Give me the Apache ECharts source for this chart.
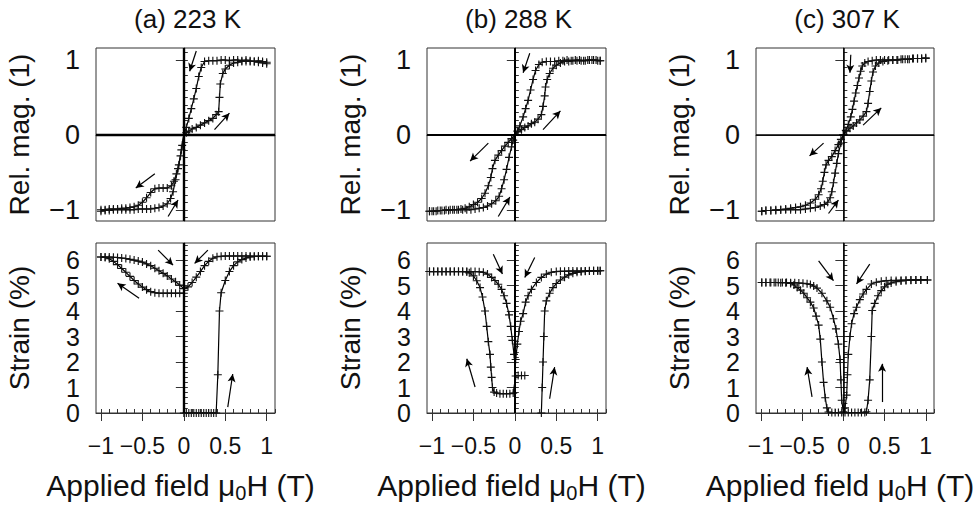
<!DOCTYPE html>
<html><head><meta charset="utf-8">
<script src="https://cdn.jsdelivr.net/npm/echarts@6/dist/echarts.min.js"></script>
<style>html,body{margin:0;padding:0;background:#fff}#c{width:980px;height:505px}</style>
</head><body><div id="c"></div><script>
// ---- tick labels / titles ----
const fieldTicks = [-1, -0.5, 0, 0.5, 1];
const magTicks = [-1, 0, 1];
const strainTicks = [0, 1, 2, 3, 4, 5, 6];
const titles = ['(a) 223 K', '(b) 288 K', '(c) 307 K'];
const magName = 'Rel. mag. (1)';
const strainName = 'Strain (%)';

// ---- (a) 223 K ----
const aMagDown = [[1.0,0.97],[0.95,0.98],[0.9,0.99],[0.85,0.98],[0.8,0.99],[0.75,1.0],[0.7,0.99],[0.65,1.0],[0.6,1.0],[0.55,0.99],[0.5,1.0],[0.45,1.0],[0.4,0.99],[0.35,0.99],[0.3,0.99],[0.25,0.98],[0.21,0.9],[0.18,0.78],[0.15,0.62],[0.12,0.48],[0.09,0.35],[0.06,0.22],[0.03,0.1],[0,0],[-0.03,-0.2],[-0.06,-0.4],[-0.09,-0.52],[-0.12,-0.62],[-0.15,-0.68],[-0.2,-0.71],[-0.25,-0.71],[-0.3,-0.71],[-0.35,-0.72],[-0.4,-0.77],[-0.45,-0.84],[-0.5,-0.9],[-0.55,-0.94],[-0.6,-0.96],[-0.65,-0.97],[-0.7,-0.98],[-0.75,-0.98],[-0.8,-0.99],[-0.85,-0.99],[-0.9,-0.99],[-0.95,-1.0],[-1.0,-1.0]];
const aMagUp = [[-1.0,-1.02],[-0.95,-1.01],[-0.9,-1.01],[-0.85,-1.0],[-0.8,-1.0],[-0.75,-1.0],[-0.7,-1.0],[-0.65,-1.0],[-0.6,-1.0],[-0.55,-0.99],[-0.5,-0.99],[-0.45,-0.99],[-0.4,-0.99],[-0.35,-0.98],[-0.3,-0.97],[-0.25,-0.95],[-0.2,-0.92],[-0.16,-0.85],[-0.13,-0.76],[-0.1,-0.6],[-0.07,-0.45],[-0.04,-0.28],[-0.02,-0.14],[0,0],[0.03,0.03],[0.06,0.05],[0.1,0.08],[0.15,0.1],[0.2,0.13],[0.25,0.16],[0.3,0.19],[0.35,0.22],[0.39,0.27],[0.42,0.31],[0.43,0.5],[0.44,0.68],[0.47,0.82],[0.5,0.88],[0.55,0.93],[0.6,0.96],[0.65,0.97],[0.7,0.98],[0.75,0.98],[0.8,0.98],[0.85,0.98],[0.9,0.97],[0.95,0.96],[1.0,0.95]];
const aMagArrows = [[0.15,1.12,0.07,0.85],[0.37,0.07,0.55,0.29],[-0.35,-0.52,-0.58,-0.71],[-0.19,-1.09,-0.07,-0.87]];
const aStrainV = [[-1.0,6.12],[-0.95,6.12],[-0.9,6.12],[-0.85,6.11],[-0.8,6.1],[-0.75,6.08],[-0.7,6.06],[-0.65,6.03],[-0.6,6.0],[-0.55,5.96],[-0.5,5.92],[-0.45,5.85],[-0.4,5.78],[-0.35,5.68],[-0.3,5.58],[-0.25,5.48],[-0.2,5.38],[-0.15,5.26],[-0.1,5.15],[-0.05,5.02],[0,4.88],[0.05,4.95],[0.1,5.12],[0.15,5.33],[0.2,5.55],[0.25,5.78],[0.3,5.95],[0.35,6.07],[0.4,6.13],[0.45,6.15],[0.5,6.16],[0.55,6.16],[0.6,6.16],[0.65,6.16],[0.7,6.16],[0.75,6.16],[0.8,6.16],[0.85,6.15],[0.9,6.15],[0.95,6.15],[1.0,6.15]];
const aStrainLow = [[-1.0,6.12],[-0.95,6.1],[-0.9,6.05],[-0.85,5.95],[-0.8,5.82],[-0.75,5.67],[-0.7,5.52],[-0.65,5.36],[-0.6,5.2],[-0.55,5.06],[-0.5,4.94],[-0.45,4.84],[-0.4,4.76],[-0.35,4.72],[-0.3,4.7],[-0.25,4.7],[-0.2,4.7],[-0.15,4.7],[-0.1,4.7],[-0.05,4.7],[0,4.7],[0,0],[0.03,0],[0.06,0],[0.09,0],[0.12,0],[0.15,0],[0.18,0],[0.21,0],[0.24,0],[0.27,0],[0.3,0],[0.33,0],[0.36,0],[0.39,0],[0.41,1.5],[0.43,4.0],[0.45,4.72],[0.5,5.2],[0.55,5.55],[0.6,5.78],[0.65,5.93],[0.7,6.02],[0.75,6.08],[0.8,6.12],[0.85,6.14],[0.9,6.15],[0.95,6.15],[1.0,6.15]];
const aStrainArrows = [[-0.31,6.39,-0.13,5.8],[0.29,6.39,0.13,5.87],[-0.54,4.5,-0.8,5.09],[0.53,0.23,0.59,1.53]];

// ---- (b) 288 K ----
const bMagDown = [[1.03,0.99],[0.98,1.0],[0.93,1.0],[0.88,1.0],[0.83,0.99],[0.78,1.0],[0.73,1.0],[0.68,0.99],[0.63,1.0],[0.58,0.99],[0.53,0.99],[0.48,0.98],[0.43,0.98],[0.38,0.98],[0.33,0.97],[0.29,0.94],[0.25,0.86],[0.22,0.74],[0.19,0.6],[0.16,0.46],[0.13,0.35],[0.1,0.24],[0.06,0.12],[0.03,0.05],[0,0],[-0.04,-0.05],[-0.08,-0.1],[-0.12,-0.15],[-0.16,-0.21],[-0.2,-0.27],[-0.24,-0.34],[-0.27,-0.45],[-0.29,-0.57],[-0.32,-0.68],[-0.36,-0.78],[-0.4,-0.85],[-0.45,-0.9],[-0.5,-0.93],[-0.55,-0.96],[-0.6,-0.98],[-0.65,-0.99],[-0.7,-1.0],[-0.75,-1.0],[-0.8,-1.01],[-0.85,-1.01],[-0.9,-1.01],[-0.95,-1.02],[-1.0,-1.02],[-1.03,-1.02]];
const bMagUp = [[-1.03,-1.02],[-0.98,-1.02],[-0.93,-1.01],[-0.88,-1.01],[-0.83,-1.0],[-0.78,-1.0],[-0.73,-1.0],[-0.68,-1.0],[-0.63,-1.0],[-0.58,-1.0],[-0.53,-1.0],[-0.48,-0.99],[-0.43,-0.98],[-0.38,-0.97],[-0.33,-0.95],[-0.28,-0.92],[-0.23,-0.88],[-0.19,-0.82],[-0.16,-0.72],[-0.13,-0.6],[-0.1,-0.46],[-0.07,-0.3],[-0.04,-0.16],[-0.02,-0.07],[0,0],[0.04,0.04],[0.08,0.07],[0.12,0.1],[0.16,0.12],[0.2,0.15],[0.24,0.17],[0.28,0.21],[0.32,0.27],[0.34,0.38],[0.36,0.52],[0.37,0.64],[0.39,0.74],[0.42,0.82],[0.46,0.89],[0.5,0.93],[0.55,0.96],[0.6,0.98],[0.65,0.98],[0.7,0.99],[0.75,0.99],[0.8,0.99],[0.85,0.99],[0.9,1.0],[0.95,1.0],[1.0,0.99],[1.03,0.99]];
const bMagArrows = [[0.18,1.09,0.1,0.83],[0.34,0.07,0.55,0.32],[-0.32,-0.11,-0.54,-0.35],[-0.2,-1.09,-0.06,-0.83]];
const bStrainV = [[-1.03,5.55],[-0.98,5.55],[-0.93,5.55],[-0.88,5.55],[-0.83,5.55],[-0.78,5.55],[-0.73,5.55],[-0.68,5.55],[-0.63,5.55],[-0.58,5.55],[-0.53,5.55],[-0.48,5.55],[-0.43,5.54],[-0.38,5.52],[-0.33,5.45],[-0.28,5.32],[-0.24,5.2],[-0.2,5.05],[-0.16,4.85],[-0.13,4.6],[-0.1,4.3],[-0.07,3.85],[-0.05,3.4],[-0.03,2.85],[-0.01,2.3],[0.01,2.1],[0.03,2.7],[0.05,3.2],[0.07,3.6],[0.1,3.9],[0.13,4.35],[0.16,4.6],[0.2,4.85],[0.26,5.12],[0.32,5.32],[0.38,5.45],[0.44,5.52],[0.5,5.55],[0.55,5.56],[0.6,5.56],[0.65,5.57],[0.7,5.57],[0.75,5.57],[0.8,5.57],[0.85,5.57],[0.9,5.58],[0.95,5.58],[1.0,5.58],[1.03,5.58]];
const bStrainLow = [[-1.03,5.55],[-0.98,5.55],[-0.93,5.55],[-0.88,5.55],[-0.83,5.55],[-0.78,5.55],[-0.73,5.55],[-0.68,5.55],[-0.63,5.55],[-0.58,5.54],[-0.55,5.5],[-0.5,5.38],[-0.46,5.19],[-0.42,4.92],[-0.39,4.55],[-0.36,4.0],[-0.34,3.4],[-0.32,2.8],[-0.3,2.3],[-0.29,1.8],[-0.28,1.4],[-0.27,1.0],[-0.25,0.82],[-0.22,0.78],[-0.18,0.76],[-0.14,0.76],[-0.1,0.76],[-0.06,0.76],[-0.02,0.78],[0.01,1.45],[0.04,1.47],[0.08,1.47],[0.12,1.47],[0.2,null],[0.32,0],[0.33,1.0],[0.34,2.0],[0.35,3.0],[0.36,4.0],[0.38,4.4],[0.42,4.7],[0.46,4.92],[0.5,5.08],[0.55,5.22],[0.6,5.33],[0.65,5.42],[0.7,5.48],[0.75,5.52],[0.8,5.54],[0.85,5.56],[0.9,5.57],[0.95,5.58],[1.0,5.58],[1.03,5.58]];
const bStrainArrows = [[-0.26,6.23,-0.15,5.45],[0.24,6.1,0.12,5.32],[-0.48,1.02,-0.58,2.13],[0.42,0.56,0.48,1.8]];

// ---- (c) 307 K ----
const cMagDown = [[1.0,1.02],[0.95,1.02],[0.9,1.02],[0.85,1.02],[0.8,1.01],[0.75,1.01],[0.7,1.01],[0.65,1.0],[0.6,1.0],[0.55,1.0],[0.5,1.0],[0.45,1.0],[0.4,1.0],[0.35,0.99],[0.3,0.98],[0.26,0.96],[0.23,0.92],[0.21,0.85],[0.19,0.76],[0.17,0.66],[0.15,0.56],[0.13,0.45],[0.11,0.34],[0.09,0.24],[0.06,0.14],[0.03,0.06],[0,0],[-0.03,-0.06],[-0.06,-0.13],[-0.1,-0.21],[-0.14,-0.29],[-0.18,-0.34],[-0.21,-0.4],[-0.23,-0.5],[-0.25,-0.62],[-0.27,-0.72],[-0.3,-0.8],[-0.34,-0.86],[-0.4,-0.91],[-0.46,-0.94],[-0.52,-0.96],[-0.58,-0.97],[-0.64,-0.98],[-0.7,-0.99],[-0.76,-1.0],[-0.82,-1.0],[-0.88,-1.01],[-0.94,-1.01],[-0.99,-1.02]];
const cMagUp = [[-0.99,-1.02],[-0.94,-1.01],[-0.88,-1.01],[-0.82,-1.01],[-0.76,-1.0],[-0.7,-1.0],[-0.64,-1.0],[-0.58,-1.0],[-0.52,-1.0],[-0.46,-0.99],[-0.4,-0.98],[-0.34,-0.97],[-0.28,-0.95],[-0.23,-0.93],[-0.19,-0.9],[-0.16,-0.84],[-0.14,-0.76],[-0.12,-0.64],[-0.1,-0.51],[-0.08,-0.38],[-0.06,-0.25],[-0.03,-0.11],[0,0],[0.04,0.05],[0.08,0.09],[0.12,0.12],[0.16,0.16],[0.2,0.2],[0.24,0.25],[0.28,0.31],[0.3,0.42],[0.32,0.58],[0.34,0.72],[0.36,0.84],[0.39,0.92],[0.43,0.96],[0.48,0.98],[0.54,0.99],[0.6,1.0],[0.66,1.0],[0.72,1.01],[0.78,1.01],[0.84,1.02],[0.9,1.02],[0.95,1.02],[1.0,1.03]];
const cMagArrows = [[0.09,1.07,0.08,0.83],[0.24,0.13,0.46,0.36],[-0.24,-0.11,-0.41,-0.28],[-0.18,-1.05,-0.06,-0.87]];
const cStrainV = [[-0.99,5.12],[-0.94,5.12],[-0.89,5.12],[-0.84,5.12],[-0.79,5.12],[-0.74,5.12],[-0.69,5.12],[-0.64,5.11],[-0.59,5.11],[-0.54,5.1],[-0.49,5.09],[-0.44,5.07],[-0.4,5.04],[-0.36,4.98],[-0.32,4.9],[-0.26,4.7],[-0.2,4.4],[-0.16,4.15],[-0.12,3.7],[-0.09,3.3],[-0.06,2.7],[-0.04,2.1],[-0.03,1.3],[-0.02,0.5],[0,0.05],[0.02,0.2],[0.04,0.7],[0.05,1.5],[0.06,2.3],[0.08,3.0],[0.1,3.5],[0.13,3.9],[0.16,4.15],[0.2,4.45],[0.24,4.67],[0.28,4.85],[0.34,5.06],[0.4,5.13],[0.46,5.17],[0.52,5.19],[0.58,5.2],[0.64,5.2],[0.7,5.21],[0.76,5.21],[0.82,5.22],[0.88,5.22],[0.94,5.22],[1.02,5.22]];
const cStrainLow = [[-0.99,5.12],[-0.94,5.12],[-0.88,5.12],[-0.82,5.12],[-0.76,5.11],[-0.7,5.11],[-0.64,5.08],[-0.6,5.02],[-0.56,4.92],[-0.52,4.82],[-0.48,4.7],[-0.44,4.52],[-0.4,4.35],[-0.36,4.12],[-0.33,3.8],[-0.3,3.45],[-0.28,2.9],[-0.26,2.0],[-0.24,1.2],[-0.22,0.6],[-0.2,0.2],[-0.18,0.04],[-0.14,0.02],[-0.1,0.02],[-0.06,0.02],[-0.02,0.02],[0.02,0.02],[0.06,0.02],[0.1,0.02],[0.14,0.02],[0.18,0.02],[0.22,0.02],[0.26,0.02],[0.28,0.05],[0.3,0.5],[0.32,1.3],[0.34,3.0],[0.35,4.02],[0.38,4.3],[0.42,4.6],[0.46,4.8],[0.5,4.95],[0.54,5.05],[0.58,5.1],[0.64,5.15],[0.7,5.18],[0.76,5.2],[0.82,5.21],[0.88,5.22],[0.94,5.22],[1.02,5.22]];
const cStrainArrows = [[-0.3,5.97,-0.12,5.19],[0.32,5.84,0.16,5.06],[-0.38,0.63,-0.44,1.8],[0.47,0.43,0.47,1.93]];

// ---- layout ----
const FONT = '"Liberation Sans", Arial, Helvetica, sans-serif';
const gridLeft = [96, 427, 756], gridW = [179, 179, 178];
const rowTop = [48, 243], rowH = [173, 170];
const X_MIN = -1.06, X_MAX = 1.1;
const Y_RANGE = [[-1.15, 1.16], [0, 6.67]];
const zeroW = [2.4, 2.0, 1.5];
const plus = 'path://M0,4.3H10V5.7H0Z M4.3,0H5.7V10H4.3Z';
function steps(a, b, s) { const r = []; for (let k = 0; a + k * s <= b + 1e-9; k++) r.push(Math.round((a + k * s) * 100) / 100); return r; }
const fmt = v => String(v).replace('-', '\u2212');

const panels = [
  { col: 0, row: 0, lines: [aMagDown, aMagUp], arrows: aMagArrows },
  { col: 1, row: 0, lines: [bMagDown, bMagUp], arrows: bMagArrows },
  { col: 2, row: 0, lines: [cMagDown, cMagUp], arrows: cMagArrows },
  { col: 0, row: 1, lines: [aStrainV, aStrainLow], arrows: aStrainArrows },
  { col: 1, row: 1, lines: [bStrainV, bStrainLow], arrows: bStrainArrows },
  { col: 2, row: 1, lines: [cStrainV, cStrainLow], arrows: cStrainArrows }
];

const grid = [], xAxis = [], yAxis = [], series = [], title = [];
titles.forEach((t, c) => title.push({
  text: t, left: gridLeft[c] + gridW[c] / 2 - 3, top: 1, textAlign: 'center',
  textStyle: { fontSize: 26, fontWeight: 'normal', fontFamily: FONT, color: '#111' }
}));

panels.forEach((p, i) => {
  const bottom = p.row === 1;
  grid.push({ left: gridLeft[p.col], top: rowTop[p.row], width: gridW[p.col], height: rowH[p.row],
    show: true, borderColor: '#333', borderWidth: 1, backgroundColor: 'transparent' });
  const tickStyle = { color: '#333', width: 1 };
  xAxis.push({
    type: 'value', gridIndex: i, min: X_MIN, max: X_MAX,
    axisLine: { show: true, lineStyle: { color: '#333', width: 1 } },
    splitLine: { show: false },
    axisTick: { show: bottom, inside: true, length: 4, customValues: steps(-1, 1.1, 0.1), lineStyle: tickStyle },
    axisLabel: { show: bottom, customValues: fieldTicks, formatter: fmt, fontSize: 23, color: '#111', fontFamily: FONT, margin: 21, showMinLabel: true, showMaxLabel: true },
    name: bottom ? '{a|Applied field \u03bc}{s|0}{a|H (T)}' : '',
    nameLocation: 'middle', nameGap: 54,
    nameTextStyle: { padding: [0, 10, 0, 0], rich: {
      a: { fontSize: 30, fontFamily: FONT, color: '#111', lineHeight: 36 },
      s: { fontSize: 20, fontFamily: FONT, color: '#111', verticalAlign: 'bottom', lineHeight: 36 }
    } }
  });
  xAxis.push({
    type: 'value', gridIndex: i, min: X_MIN, max: X_MAX,
    axisLine: { show: false }, splitLine: { show: false }, axisLabel: { show: false },
    axisTick: { show: bottom, inside: true, length: 8, customValues: fieldTicks, lineStyle: tickStyle }
  });
  const yr = Y_RANGE[p.row];
  const ylab = bottom ? strainTicks : magTicks;
  yAxis.push({
    type: 'value', gridIndex: i, min: yr[0], max: yr[1],
    axisLine: { show: true, lineStyle: { color: '#333', width: 1 } },
    splitLine: { show: false },
    axisTick: { show: true, inside: true, length: 4, customValues: bottom ? steps(0, 6.6, 0.2) : steps(-1.1, 1.1, 0.1), lineStyle: tickStyle },
    axisLabel: { show: true, customValues: ylab, formatter: fmt, fontSize: bottom ? 25 : 27, lineHeight: bottom ? 22 : 30,
      color: '#111', fontFamily: FONT, margin: 16, showMinLabel: true, showMaxLabel: true, hideOverlap: false },
    name: bottom ? strainName : magName, nameLocation: 'middle', nameRotate: 90, nameGap: 63,
    nameTextStyle: { fontSize: 28, fontFamily: FONT, color: '#111' }
  });
  yAxis.push({
    type: 'value', gridIndex: i, min: yr[0], max: yr[1],
    axisLine: { show: false }, splitLine: { show: false }, axisLabel: { show: false },
    axisTick: { show: true, inside: true, length: 8, customValues: ylab, lineStyle: tickStyle }
  });
  p.lines.forEach((d, k) => {
    const s = {
      type: 'line', xAxisIndex: 2 * i, yAxisIndex: 2 * i, data: d,
      symbol: plus, symbolSize: 8, showSymbol: true, connectNulls: false,
      lineStyle: { color: '#000', width: 1.2 }, itemStyle: { color: '#111' },
      emphasis: { disabled: true }, silent: true, animation: false, z: 3
    };
    if (k === 0) {
      s.markLine = {
        silent: true, symbol: ['none', 'none'], label: { show: false }, animation: false,
        lineStyle: { color: '#000', width: zeroW[p.col], type: 'solid' },
        emphasis: { disabled: true },
        data: bottom ? [{ xAxis: 0 }] : [{ xAxis: 0 }, { yAxis: 0 }]
      };
    } else {
      s.markLine = {
        silent: true, symbol: ['none', 'arrow'], symbolSize: [6, 8], label: { show: false }, animation: false,
        lineStyle: { color: '#000', width: 1.2, type: 'solid' },
        emphasis: { disabled: true },
        data: p.arrows.map(a => [{ coord: [a[0], a[1]] }, { coord: [a[2], a[3]] }])
      };
    }
    series.push(s);
  });
});

const chart = echarts.init(document.getElementById('c'), null, { renderer: 'svg' });
chart.setOption({ animation: false, backgroundColor: '#fff', title, grid, xAxis, yAxis, series });
</script></body></html>
